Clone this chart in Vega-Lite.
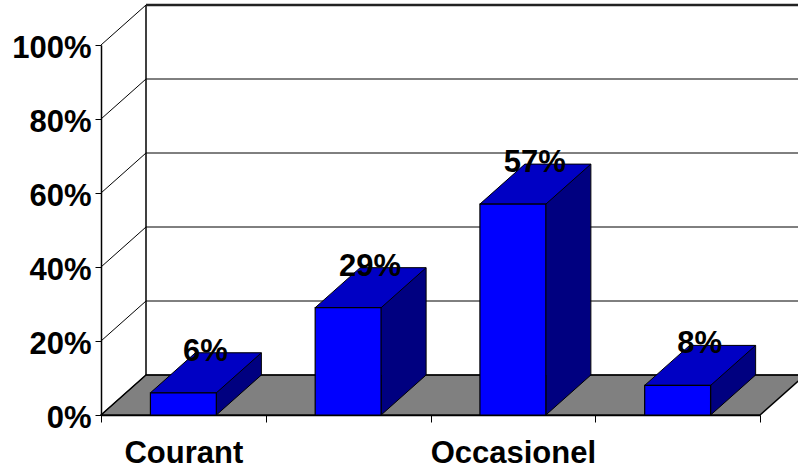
{
  "$schema": "https://vega.github.io/schema/vega-lite/v6.json",
  "width": 659,
  "height": 370,
  "autosize": {"type": "none"},
  "padding": {"left": 101, "top": 45, "right": 38, "bottom": 53},
  "background": "white",
  "config": {
    "view": {"stroke": null},
    "font": "Liberation Sans",
    "axis": {"labelFont": "Liberation Sans", "labelFontWeight": "bold", "labelFontSize": 31, "labelColor": "black", "domainColor": "black", "tickColor": "black", "title": null, "grid": false}
  },
  "datasets": {
    "bars": [
      {"cat": "Courant", "pct": 0.06},
      {"cat": "Régulier", "pct": 0.29},
      {"cat": "Occasionel", "pct": 0.57},
      {"cat": "Jamais", "pct": 0.08}
    ],
    "ticks": [{"v": 0}, {"v": 0.2}, {"v": 0.4}, {"v": 0.6}, {"v": 0.8}, {"v": 1}]
  },
  "encoding": {
    "y": {"field": "pct", "type": "quantitative", "scale": {"domain": [0, 1], "nice": false, "zero": true},
      "axis": {"format": "%", "values": [0, 0.2, 0.4, 0.6, 0.8, 1], "tickSize": 6, "labelPadding": 4, "labelOffset": 3, "domainWidth": 1.5}}
  },
  "layer": [
    {
      "data": {"name": "ticks"},
      "transform": [{"filter": "datum.v == 0"}],
      "mark": {"type": "point", "shape": "M0,0 L659,0 L704,-40 L45,-40 Z", "size": 4, "filled": true, "fill": "#808080", "stroke": "black", "strokeWidth": 1.5, "opacity": 1},
      "encoding": {"x": {"datum": "Courant", "type": "nominal", "bandPosition": 0}, "y": {"field": "v", "type": "quantitative"}}
    },
    {
      "data": {"name": "ticks"},
      "mark": {"type": "point", "shape": "M0,0 L45,-40 L704,-40", "size": 4, "filled": false, "stroke": "black", "strokeWidth": 1, "opacity": 1},
      "encoding": {"x": {"datum": "Courant", "type": "nominal", "bandPosition": 0}, "y": {"field": "v", "type": "quantitative"}}
    },
    {
      "data": {"name": "ticks"},
      "transform": [{"filter": "datum.v == 0"}],
      "mark": {"type": "point", "shape": "M45,-40 L45,-410", "size": 4, "filled": false, "stroke": "black", "strokeWidth": 1.5, "opacity": 1},
      "encoding": {"x": {"datum": "Courant", "type": "nominal", "bandPosition": 0}, "y": {"field": "v", "type": "quantitative"}}
    },
    {
      "data": {"name": "ticks"},
      "transform": [{"filter": "datum.v == 1"}],
      "mark": {"type": "point", "shape": "M45,-40 L704,-40", "size": 4, "filled": false, "stroke": "#222222", "strokeWidth": 2.5, "opacity": 1},
      "encoding": {"x": {"datum": "Courant", "type": "nominal", "bandPosition": 0}, "y": {"field": "v", "type": "quantitative"}}
    },
    {
      "data": {"name": "bars"},
      "mark": {"type": "bar", "width": {"band": 0.4}, "xOffset": 45, "yOffset": -40, "y2Offset": -40, "fill": "#000080", "strokeWidth": 0},
      "encoding": {"x": {"field": "cat", "type": "nominal", "sort": null}, "y": {"field": "pct", "type": "quantitative"}}
    },
    {
      "data": {"name": "bars"},
      "mark": {"type": "point", "shape": "M33,-40 L33,0 L78,-40", "size": 4, "filled": true, "fill": "#000080", "stroke": "black", "strokeWidth": 1, "opacity": 1},
      "encoding": {"x": {"field": "cat", "type": "nominal", "sort": null}, "y": {"datum": 0, "type": "quantitative"}}
    },
    {
      "data": {"name": "bars"},
      "mark": {"type": "rule", "xOffset": 78, "yOffset": -40, "y2Offset": -40, "color": "black", "strokeWidth": 1},
      "encoding": {"x": {"field": "cat", "type": "nominal", "sort": null}, "y": {"field": "pct", "type": "quantitative"}, "y2": {"datum": 0}}
    },
    {
      "data": {"name": "bars"},
      "mark": {"type": "point", "shape": "M-33,0 L33,0 L78,-40 L12,-40 Z", "size": 4, "filled": true, "fill": "#0000C4", "stroke": "black", "strokeWidth": 1, "opacity": 1},
      "encoding": {"x": {"field": "cat", "type": "nominal", "sort": null}, "y": {"field": "pct", "type": "quantitative"}}
    },
    {
      "data": {"name": "bars"},
      "mark": {"type": "bar", "width": {"band": 0.4}, "fill": "#0000FF", "stroke": "black", "strokeWidth": 1.2},
      "encoding": {
        "x": {"field": "cat", "type": "nominal", "sort": null,
          "scale": {"type": "band", "domain": ["Courant", "Régulier", "Occasionel", "Jamais"], "paddingInner": 0, "paddingOuter": 0},
          "axis": {"tickBand": "extent", "labelAngle": 0, "tickSize": 7, "labelPadding": 31, "labelAlign": "center", "labelBound": false, "labelFlush": false, "labelOverlap": false, "domainWidth": 1.5,
            "labelExpr": "datum.value == 'Courant' || datum.value == 'Occasionel' ? datum.label : ''"}},
        "y": {"field": "pct", "type": "quantitative"}
      }
    },
    {
      "data": {"name": "bars"},
      "mark": {"type": "text", "dx": 22, "dy": -41, "baseline": "middle", "align": "center", "font": "Liberation Sans", "fontWeight": "bold", "fontSize": 31, "color": "black"},
      "encoding": {"x": {"field": "cat", "type": "nominal", "sort": null}, "y": {"field": "pct", "type": "quantitative"}, "text": {"field": "pct", "type": "quantitative", "format": ".0%"}}
    }
  ]
}
